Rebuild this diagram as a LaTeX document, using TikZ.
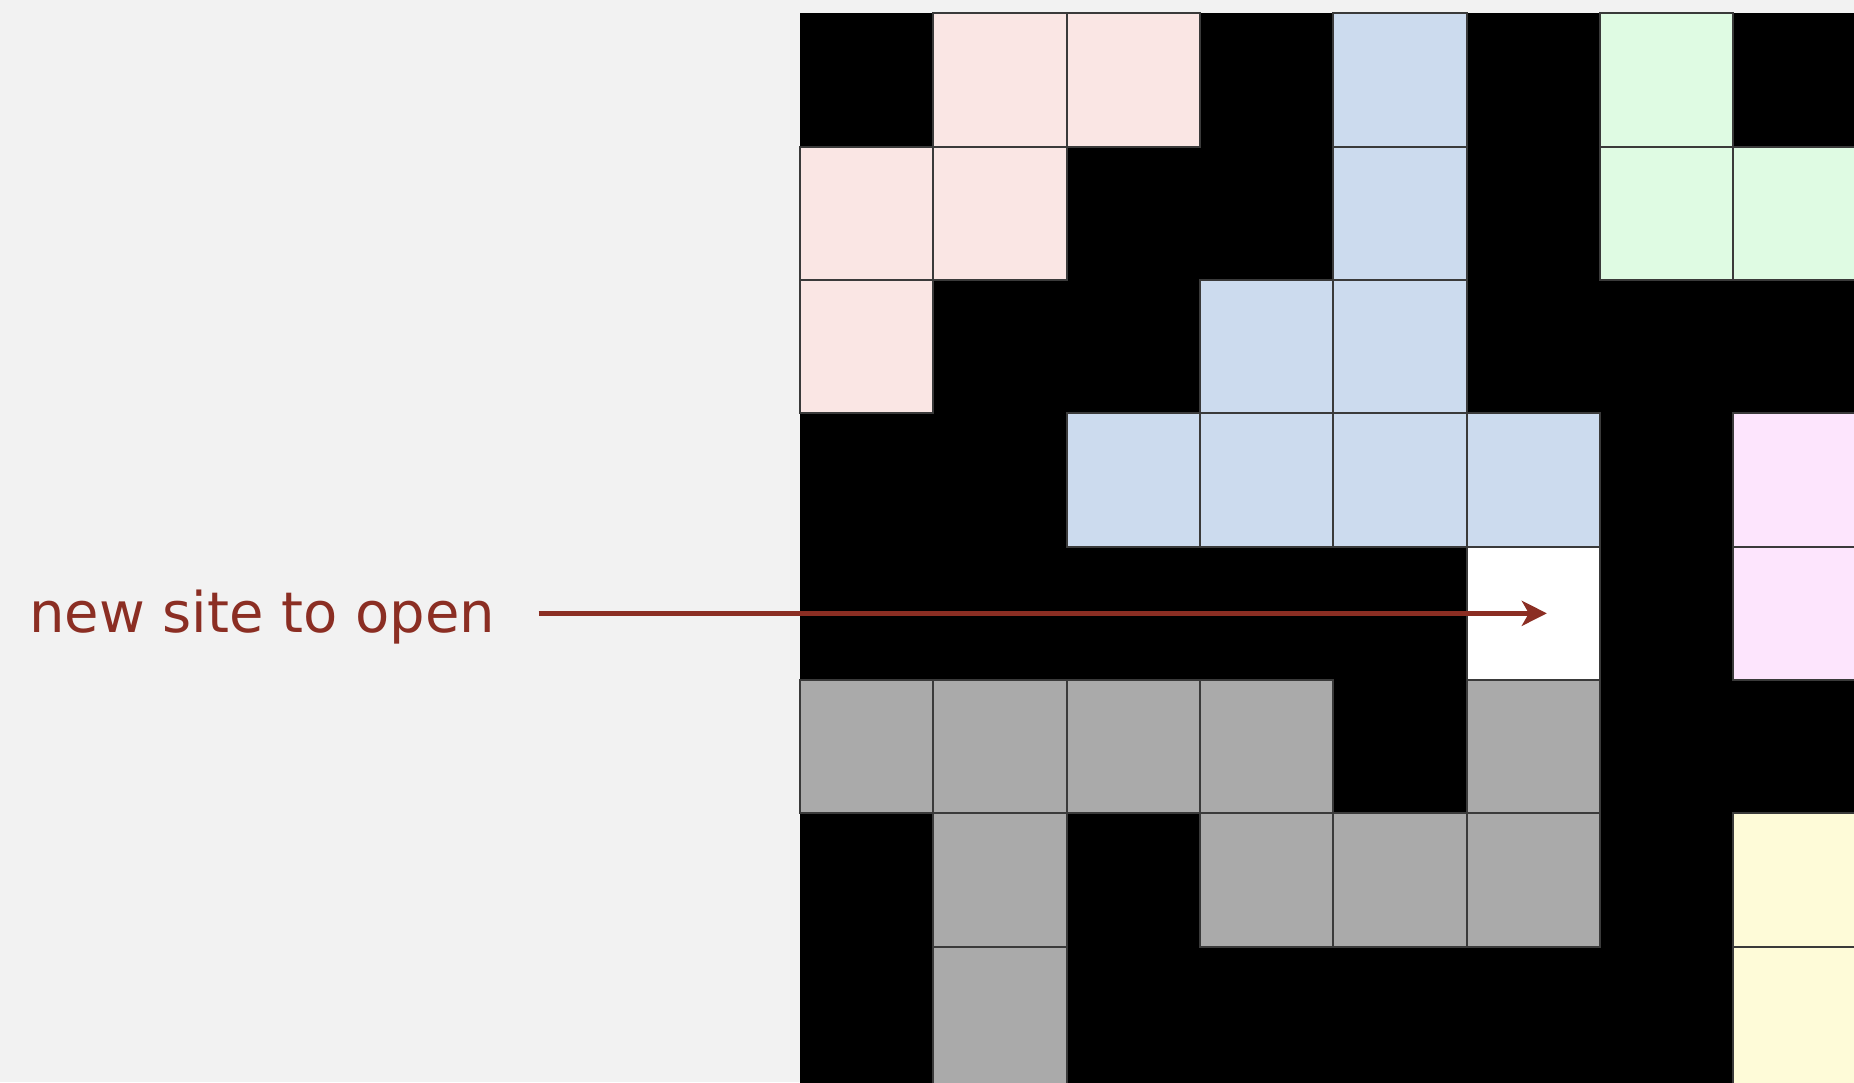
\documentclass[tikz,border=0pt]{standalone}
\usepackage{fontspec}
\setmainfont{DejaVu Sans}
\usetikzlibrary{arrows.meta}
\definecolor{bgc}{HTML}{F2F2F2}
\definecolor{pinkc}{HTML}{FAE6E4}
\definecolor{bluec}{HTML}{CCDBEE}
\definecolor{greenc}{HTML}{DFFBE3}
\definecolor{lavc}{HTML}{FDE5FD}
\definecolor{yelc}{HTML}{FEFBD8}
\definecolor{grayc}{HTML}{AAAAAA}
\definecolor{redc}{HTML}{8B2E23}
\definecolor{edgec}{HTML}{3A3A3A}
\tikzset{
  cellbox/.style={draw=edgec, line width=2pt, inner sep=0pt, outer sep=0pt,
    minimum width=133.333pt, minimum height=133.333pt, anchor=north west},
  edgecell/.style={cellbox, minimum height=170pt},
  labeltext/.style={text=redc, font=\fontsize{56pt}{60pt}\selectfont, inner sep=0pt, anchor=base west},
  pointer/.style={draw=redc, line width=5pt, -{Stealth[length=25pt, width=25pt, inset=7pt]}}
}
\begin{document}
\begin{tikzpicture}[x=1pt, y=-1pt]
\useasboundingbox (0,0) rectangle (1854,1082);
\fill[bgc] (0,0) rectangle (1854,1082);
\begin{scope}
\clip (0,0) rectangle (1854,1082);
\fill[black] (800,13.333) rectangle (1900,1120);
\foreach \r/\c/\col in {
  0/1/pinkc, 0/2/pinkc, 1/0/pinkc, 1/1/pinkc, 2/0/pinkc,
  0/4/bluec, 1/4/bluec, 2/3/bluec, 2/4/bluec, 3/2/bluec, 3/3/bluec, 3/4/bluec, 3/5/bluec,
  0/6/greenc, 1/6/greenc, 1/7/greenc,
  3/7/lavc, 4/7/lavc,
  6/7/yelc,
  5/0/grayc, 5/1/grayc, 5/2/grayc, 5/3/grayc, 5/5/grayc,
  6/1/grayc, 6/3/grayc, 6/4/grayc, 6/5/grayc}
  {\node[cellbox, fill=\col] (cell-\r-\c) at ({800+\c*133.333},{13.333+\r*133.333}) {};}
\foreach \c/\col in {1/grayc, 7/yelc}
  {\node[edgecell, fill=\col] (cell-7-\c) at ({800+\c*133.333},{13.333+7*133.333}) {};}
\node[cellbox, fill=white] (newsite) at ({800+5*133.333},{13.333+4*133.333}) {};
\end{scope}
\node[labeltext] (label) at (29,632) {new site to open};
\coordinate (tip) at ([xshift=13.5pt]newsite.center);
\draw[pointer] ([xshift=43pt]label.east |- tip) -- (tip);
\end{tikzpicture}
\end{document}
